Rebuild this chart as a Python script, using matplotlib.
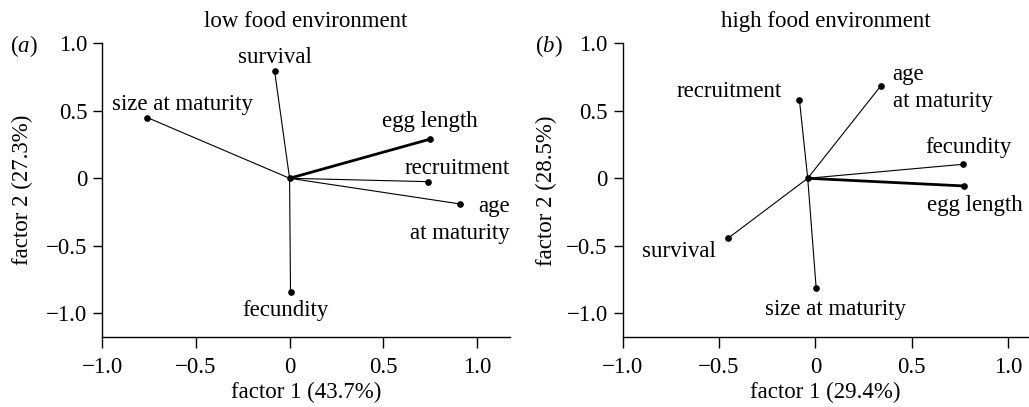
import matplotlib
matplotlib.use('Agg')
import matplotlib.pyplot as plt

plt.rcParams['font.family'] = ['Liberation Serif', 'DejaVu Serif']
plt.rcParams['mathtext.fontset'] = 'custom'
plt.rcParams['mathtext.rm'] = 'Liberation Serif'
plt.rcParams['mathtext.it'] = 'Liberation Serif:italic'

# ---------------- data ----------------
low_traits = ['survival', 'size at maturity', 'egg length', 'recruitment',
              'age at maturity', 'fecundity']
low_f1 = [-0.08, -0.76, 0.75, 0.74, 0.91, 0.005]
low_f2 = [0.795, 0.45, 0.29, -0.025, -0.19, -0.84]
low_origin = (0.0, 0.0)
low_var = (43.7, 27.3)

high_traits = ['recruitment', 'age at maturity', 'fecundity', 'egg length',
               'survival', 'size at maturity']
high_f1 = [-0.083, 0.34, 0.768, 0.773, -0.453, 0.004]
high_f2 = [0.58, 0.686, 0.104, -0.057, -0.444, -0.815]
high_origin = (-0.04, 0.0)
high_var = (29.4, 28.5)

tick_values = [-1.0, -0.5, 0.0, 0.5, 1.0]
tick_labels = ['\u22121.0', '\u22120.5', '0', '0.5', '1.0']

# ---------------- styles / label placement (pixels, last-line baseline) ----------------
FS = 16.5
display = {'age at maturity': 'age\nat maturity'}
low_place = {
    'survival': ('center', 0, 8.3),
    'size at maturity': ('left', -35, 7.7),
    'egg length': ('center', 0, 11.7),
    'recruitment': ('left', -23.3, 7.7),
    'age at maturity': ('right', 50, -35),
    'fecundity': ('center', -5, -24.3),
}
high_place = {
    'recruitment': ('right', -17.6, 2.7),
    'age at maturity': ('left', 11.7, -21.6),
    'fecundity': ('center', 4.7, 11),
    'egg length': ('center', 10.7, -25),
    'survival': ('right', -12.7, -19),
    'size at maturity': ('center', 19.8, -26.3),
}

W, H = 1029, 407
fig = plt.figure(figsize=(W / 100, H / 100), dpi=100)

panels = [
    dict(rect=[102.3 / W, 1 - 337.3 / H, 407.7 / W, 294 / H], xmax=1.177,
         traits=low_traits, f1=low_f1, f2=low_f2, origin=low_origin,
         var=low_var, place=low_place, title='low food environment',
         tag='$(a)$', tagx=10, ylab_px=33.3),
    dict(rect=[622.7 / W, 1 - 337.3 / H, 405.3 / W, 294 / H], xmax=1.103,
         traits=high_traits, f1=high_f1, f2=high_f2, origin=high_origin,
         var=high_var, place=high_place, title='high food environment',
         tag='$(b)$', tagx=535, ylab_px=556.7),
]

for p in panels:
    ax = fig.add_axes(p['rect'])
    ax.set_xlim(-1.0, p['xmax'])
    ax.set_ylim(-1.178, 1.0)
    for s in ('top', 'right'):
        ax.spines[s].set_visible(False)
    for s in ('left', 'bottom'):
        ax.spines[s].set_linewidth(1.0)
    ax.set_xticks(tick_values)
    ax.set_xticklabels(tick_labels)
    ax.set_yticks(tick_values)
    ax.set_yticklabels(tick_labels)
    ax.tick_params(axis='x', length=8, width=1.0, pad=6, labelsize=FS)
    ax.tick_params(axis='y', length=6.5, width=1.0, pad=4.3, labelsize=FS)

    ox, oy = p['origin']
    for name, x, y in zip(p['traits'], p['f1'], p['f2']):
        lw = 2.0 if name == 'egg length' else 0.8
        ax.plot([ox, x], [oy, y], color='black', lw=lw, solid_capstyle='butt',
                clip_on=False)
        ax.plot([x], [y], 'o', color='black', ms=3.8, clip_on=False)
        ha, dx, dy = p['place'][name]
        ax.annotate(display.get(name, name), xy=(x, y), xytext=(dx, dy),
                    textcoords='offset pixels', ha=ha, va='baseline',
                    multialignment=ha,
                    fontsize=FS, linespacing=1.39, annotation_clip=False)
    ax.plot([ox], [oy], 'o', color='black', ms=3.8, clip_on=False)

    ax.set_title(p['title'], fontsize=FS, pad=11.5)
    ax.set_xlabel('factor 1 (%.1f%%)' % p['var'][0], fontsize=FS)
    ax.set_ylabel('factor 2 (%.1f%%)' % p['var'][1], fontsize=FS)
    ax.xaxis.set_label_coords(0.5, (337.3 - 381.7) / 294)
    left_px = p['rect'][0] * W
    ax.yaxis.set_label_coords((p['ylab_px'] - left_px) / (p['rect'][2] * W), 0.5)

    fig.text(p['tagx'] / W, 1 - 51.7 / H, p['tag'], fontsize=FS,
             ha='left', va='baseline')

fig.savefig('out.png', dpi=100)
